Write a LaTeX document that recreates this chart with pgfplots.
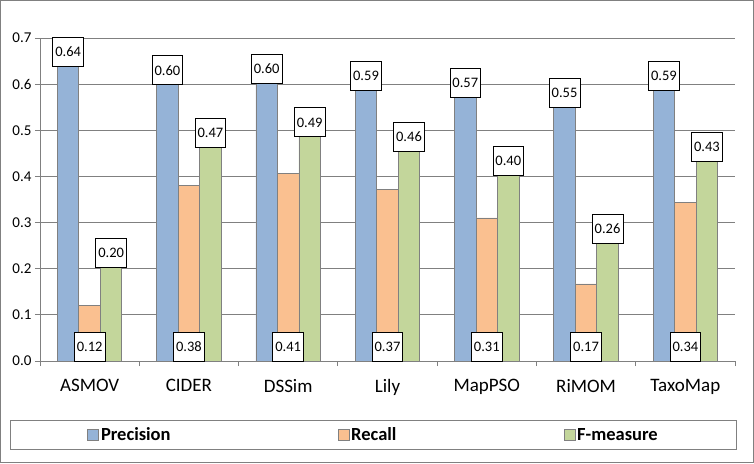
\documentclass[border=0pt]{standalone}
\usepackage{pgfplots}
\pgfplotsset{compat=1.18}
\usepackage{fontspec}
\setmainfont{Carlito}
\definecolor{cPrec}{HTML}{95B3D7}
\definecolor{cRec}{HTML}{FAC090}
\definecolor{cF}{HTML}{C3D69B}
\definecolor{edge}{HTML}{808080}
\begin{document}
\begin{tikzpicture}[x=1pt,y=1pt]
\draw[edge, line width=1pt] (0.5,0.5) rectangle (753.5,462.5);
\begin{axis}[
    at={(40pt,102pt)}, anchor=south west,
    scale only axis,
    width=695pt, height=323pt,
    ybar=0pt, bar width=21.5pt,
    xmin=-0.5, xmax=6.5,
    ymin=0, ymax=0.7,
    axis lines*=left,
    axis line style={edge, line width=0.8pt},
    xtick={0,...,6},
    xticklabels={ASMOV,CIDER,DSSim,Lily,MapPSO,RiMOM,TaxoMap},
    minor xtick={-0.5,0.5,...,6.5},
    major x tick style={draw=none},
    minor x tick style={edge, line width=0.8pt},
    minor tick length=5pt,
    ytick={0,0.1,...,0.7},
    y tick style={edge, line width=0.8pt},
    major tick length=5pt,
    tick align=outside,
    ymajorgrids,
    grid style={edge, line width=0.8pt},
    yticklabel style={/pgf/number format/fixed, /pgf/number format/fixed zerofill,
        /pgf/number format/precision=1, /pgf/number format/assume math mode=true,
        font=\fontsize{15}{17}\selectfont, xshift=0pt},
    xticklabel style={font=\fontsize{19}{22}\selectfont, yshift=-10pt},
    nodes near coords,
    nodes near coords style={/pgf/number format/fixed, /pgf/number format/fixed zerofill,
        /pgf/number format/precision=2, /pgf/number format/assume math mode=true,
        font=\fontsize{14.5}{16}\selectfont, draw=black, fill=white, line width=0.8pt,
        inner xsep=2.5pt, minimum height=29pt, anchor=south, yshift=-1pt},
    legend columns=3,
    legend style={at={(0.48,-0.229)}, anchor=center, draw=edge, line width=0.8pt,
        font=\bfseries\fontsize{18.5}{20}\selectfont, inner xsep=77pt, inner ysep=5pt,
        /tikz/every even column/.append style={column sep=165pt}},
    legend image code/.code={\draw[#1, draw=edge, line width=0.6pt] (0pt,-5.5pt) rectangle (11pt,5.5pt);},
]
\addplot[fill=cPrec, draw=edge, line width=0.8pt] coordinates {
    (0,0.640) (1,0.600) (2,0.603) (3,0.588) (4,0.572) (5,0.550) (6,0.588)
};
\addlegendentry{Precision}
\addplot[fill=cRec, draw=edge, line width=0.8pt,
    visualization depends on=y \as \rawy,
    nodes near coords style={yshift={-\rawy*461.43pt}}] coordinates {
    (0,0.121) (1,0.381) (2,0.407) (3,0.372) (4,0.310) (5,0.167) (6,0.344)
};
\addlegendentry{Recall}
\addplot[fill=cF, draw=edge, line width=0.8pt] coordinates {
    (0,0.204) (1,0.465) (2,0.487) (3,0.455) (4,0.403) (5,0.257) (6,0.433)
};
\addlegendentry{F-measure}
\end{axis}
\end{tikzpicture}
\end{document}
